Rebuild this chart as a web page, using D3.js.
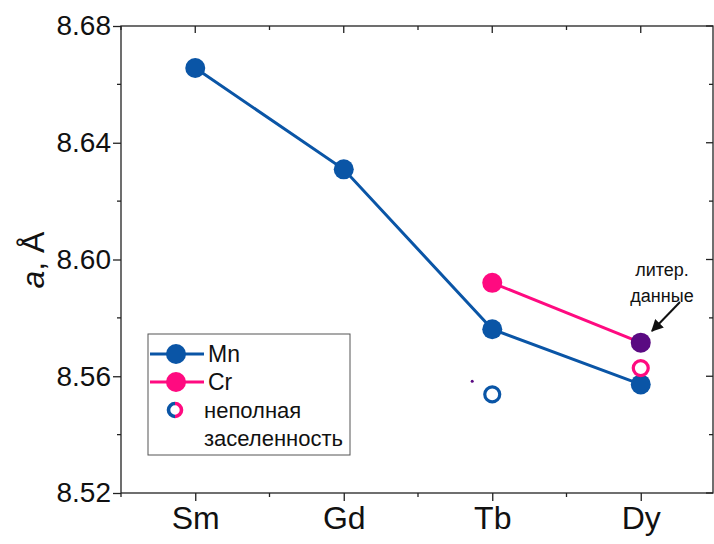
<!DOCTYPE html>
<html>
<head>
<meta charset="utf-8">
<script src="https://cdn.jsdelivr.net/npm/d3@7"></script>
<style>
  html, body { margin: 0; padding: 0; background: #fff; }
  svg { display: block; font-family: Arial, "Liberation Sans", sans-serif; }
</style>
</head>
<body>
<svg id="chart" width="714" height="544"></svg>
<script>
// Lattice parameter a (Å) across rare-earth elements
const categories = ["Sm", "Gd", "Tb", "Dy"];
const mnValues = [8.6656, 8.6309, 8.5761, 8.5572];          // Mn series
const crCats = ["Tb", "Dy"];
const crValues = [8.5920, 8.5715];                          // Cr series (Dy: literature)
const partialMn = [{ cat: "Tb", value: 8.5538 }];           // partial occupancy, Mn
const partialCr = [{ cat: "Dy", value: 8.5628 }];           // partial occupancy, Cr
const literature = [{ cat: "Dy", value: 8.5715 }];          // literature data point
const strayPoint = [{ pos: 2.865, value: 8.5583 }];
const yTicks = [8.52, 8.56, 8.60, 8.64, 8.68];

const colMn = "#0a55a6", colCr = "#ff0a80", colLit = "#5a0a82";
const FONT = "Arial, 'Liberation Sans', sans-serif";

const svg = d3.select("#chart");
const L = 121, R = 713, T = 26, B = 493;

const x = d3.scaleLinear().domain([0.5, 4.5]).range([L, L + (R - L + 2)]);
const xc = c => x(categories.indexOf(c) + 1);
const y = d3.scaleLinear().domain([8.52, 8.68]).range([B, T]);

// frame
svg.append("rect").attr("x", L).attr("y", T).attr("width", R - L).attr("height", B - T)
  .attr("fill", "none").attr("stroke", "#222").attr("stroke-width", 1.3);

const yMinor = d3.range(8.54, 8.68, 0.04);
const xMajor = [1, 2, 3, 4], xMinor = [0.5, 1.5, 2.5, 3.5];

// left axis
const gl = svg.append("g").attr("transform", `translate(${L},0)`);
gl.call(d3.axisLeft(y).tickValues(yTicks).tickFormat(d3.format(".2f")).tickSize(8).tickPadding(2))
  .call(g => g.select(".domain").remove());
gl.selectAll("text").attr("font-size", 28).attr("fill", "#111").attr("font-family", FONT);
gl.selectAll("line").attr("stroke", "#222").attr("stroke-width", 1.3);
gl.selectAll(".minor").data(yMinor).enter().append("line")
  .attr("x1", -4).attr("x2", 0).attr("y1", d => y(d)).attr("y2", d => y(d))
  .attr("stroke", "#222").attr("stroke-width", 1.3);

// right axis (inward ticks)
const gr = svg.append("g").attr("transform", `translate(${R},0)`);
gr.selectAll("line.maj").data(yTicks).enter().append("line")
  .attr("x1", -7).attr("x2", 0).attr("y1", d => y(d)).attr("y2", d => y(d))
  .attr("stroke", "#222").attr("stroke-width", 1.3);
gr.selectAll("line.min").data(yMinor).enter().append("line")
  .attr("x1", -4).attr("x2", 0).attr("y1", d => y(d)).attr("y2", d => y(d))
  .attr("stroke", "#222").attr("stroke-width", 1.3);

// bottom axis
const gb = svg.append("g").attr("transform", `translate(0,${B})`);
gb.call(d3.axisBottom(x).tickValues(xMajor).tickFormat(d => categories[d - 1]).tickSize(8).tickPadding(5))
  .call(g => g.select(".domain").remove());
gb.selectAll("text").attr("font-size", 32).attr("fill", "#111").attr("font-family", FONT);
gb.selectAll("line").attr("stroke", "#222").attr("stroke-width", 1.3);
gb.selectAll(".minor").data(xMinor).enter().append("line")
  .attr("x1", d => x(d)).attr("x2", d => x(d)).attr("y1", 0).attr("y2", 4)
  .attr("stroke", "#222").attr("stroke-width", 1.3);

// top axis (inward ticks)
const gt = svg.append("g").attr("transform", `translate(0,${T})`);
gt.selectAll("line.maj").data(xMajor).enter().append("line")
  .attr("x1", d => x(d)).attr("x2", d => x(d)).attr("y1", 0).attr("y2", 7)
  .attr("stroke", "#222").attr("stroke-width", 1.3);
gt.selectAll("line.min").data(xMinor).enter().append("line")
  .attr("x1", d => x(d)).attr("x2", d => x(d)).attr("y1", 0).attr("y2", 4)
  .attr("stroke", "#222").attr("stroke-width", 1.3);

// y axis title
svg.append("text").attr("transform", "translate(44,260) rotate(-90)")
  .attr("text-anchor", "middle").attr("font-size", 32).attr("fill", "#111")
  .html('<tspan font-style="italic">a</tspan>, Å');

// lines
const line = d3.line().x(d => d[0]).y(d => d[1]);
svg.append("path")
  .datum(categories.map((c, i) => [xc(c), y(mnValues[i])]))
  .attr("d", line).attr("fill", "none").attr("stroke", colMn).attr("stroke-width", 3);
svg.append("path")
  .datum(crCats.map((c, i) => [xc(c), y(crValues[i])]))
  .attr("d", line).attr("fill", "none").attr("stroke", colCr).attr("stroke-width", 3);

// markers
svg.selectAll("circle.mn").data(categories).enter().append("circle")
  .attr("cx", c => xc(c)).attr("cy", (c, i) => y(mnValues[i])).attr("r", 10).attr("fill", colMn);
svg.append("circle").attr("cx", xc(crCats[0])).attr("cy", y(crValues[0])).attr("r", 10).attr("fill", colCr);
svg.selectAll("circle.lit").data(literature).enter().append("circle")
  .attr("cx", d => xc(d.cat)).attr("cy", d => y(d.value)).attr("r", 10).attr("fill", colLit);
svg.selectAll("circle.pm").data(partialMn).enter().append("circle")
  .attr("cx", d => xc(d.cat)).attr("cy", d => y(d.value)).attr("r", 7.5)
  .attr("fill", "#fff").attr("stroke", colMn).attr("stroke-width", 3.2);
svg.selectAll("circle.pc").data(partialCr).enter().append("circle")
  .attr("cx", d => xc(d.cat)).attr("cy", d => y(d.value)).attr("r", 7.5)
  .attr("fill", "#fff").attr("stroke", colCr).attr("stroke-width", 3.2);
svg.selectAll("circle.stray").data(strayPoint).enter().append("circle")
  .attr("cx", d => x(d.pos)).attr("cy", d => y(d.value)).attr("r", 1.5).attr("fill", colLit);

// annotation
svg.append("text").attr("x", 662).attr("y", 276).attr("text-anchor", "middle")
  .attr("font-size", 18).attr("fill", "#111").text("литер.");
svg.append("text").attr("x", 662).attr("y", 302).attr("text-anchor", "middle")
  .attr("font-size", 18).attr("fill", "#111").text("данные");
svg.append("defs").append("marker").attr("id", "ah").attr("viewBox", "0 0 10 10")
  .attr("refX", 9).attr("refY", 5).attr("markerWidth", 6).attr("markerHeight", 6)
  .attr("orient", "auto").attr("markerUnits", "strokeWidth")
  .append("path").attr("d", "M0,0 L10,5 L0,10 z").attr("fill", "#111");
svg.append("line").attr("x1", 680).attr("y1", 302).attr("x2", 652).attr("y2", 331)
  .attr("stroke", "#111").attr("stroke-width", 2).attr("marker-end", "url(#ah)");

// legend
const lg = svg.append("g");
lg.append("rect").attr("x", 148).attr("y", 334).attr("width", 202).attr("height", 121)
  .attr("fill", "#fff").attr("stroke", "#555").attr("stroke-width", 1);
[[colMn, "Mn", 354], [colCr, "Cr", 382]].forEach(([c, t, yy]) => {
  lg.append("line").attr("x1", 150).attr("x2", 204).attr("y1", yy).attr("y2", yy)
    .attr("stroke", c).attr("stroke-width", 3);
  lg.append("circle").attr("cx", 176).attr("cy", yy).attr("r", 10).attr("fill", c);
  lg.append("text").attr("x", 208).attr("y", yy + 8).attr("font-size", 23).attr("fill", "#111").text(t);
});
const oc = { x: 175, y: 410, r: 6.5 };
const arc = d3.arc().innerRadius(oc.r - 1.8).outerRadius(oc.r + 1.8);
lg.append("path").attr("transform", `translate(${oc.x},${oc.y})`)
  .attr("d", arc({ startAngle: Math.PI, endAngle: 2 * Math.PI })).attr("fill", colMn);
lg.append("path").attr("transform", `translate(${oc.x},${oc.y})`)
  .attr("d", arc({ startAngle: 0, endAngle: Math.PI })).attr("fill", colCr);
lg.append("text").attr("x", 204).attr("y", 418).attr("font-size", 22).attr("fill", "#111").text("неполная");
lg.append("text").attr("x", 204).attr("y", 446).attr("font-size", 22).attr("fill", "#111").text("заселенность");
</script>
</body>
</html>
